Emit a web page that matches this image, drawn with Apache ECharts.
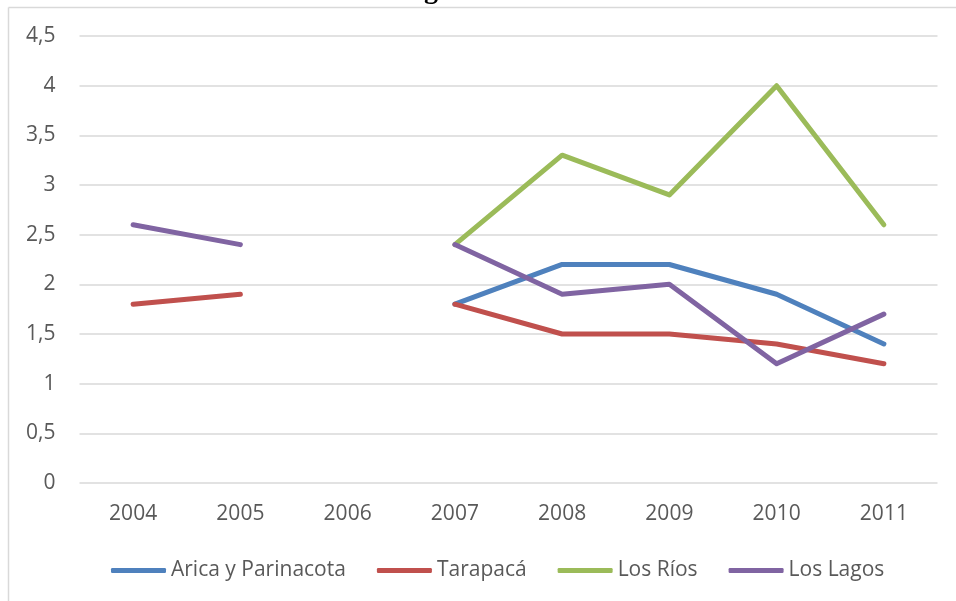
<!DOCTYPE html>
<html><head><meta charset="utf-8">
<script src="https://cdn.jsdelivr.net/npm/echarts@6/dist/echarts.min.js"></script>
<style>html,body{margin:0;padding:0;background:#fff}#c{width:956px;height:601px}</style>
</head><body><div id="c"></div>
<script>
const categories = ['2004','2005','2006','2007','2008','2009','2010','2011'];
const arica = [null, null, null, 1.8, 2.2, 2.2, 1.9, 1.4];
const tarapaca = [1.8, 1.9, null, 1.8, 1.5, 1.5, 1.4, 1.2];
const losRios = [null, null, null, 2.4, 3.3, 2.9, 4.0, 2.6];
const losLagos = [2.6, 2.4, null, 2.4, 1.9, 2.0, 1.2, 1.7];
const seriesNames = ['Arica y Parinacota', 'Tarapacá', 'Los Ríos', 'Los Lagos'];
const colors = ['#4F81BD', '#C0504D', '#9BBB59', '#8064A2'];
const font = 'Open Sans, Noto Sans, sans-serif';
const chart = echarts.init(document.getElementById('c'));
const mk = (name, data, color) => ({
  name, type: 'line', data, connectNulls: false, showSymbol: false, symbol: 'none',
  lineStyle: { color, width: 5, cap: 'round', join: 'round' }, itemStyle: { color },
  animation: false
});
chart.setOption({
  animation: false,
  grid: { left: 79.5, right: 18.5, top: 36, bottom: 118, containLabel: false },
  graphic: [
    { type: 'line', shape: { x1: 8.5, y1: 7.5, x2: 956, y2: 7.5 }, style: { stroke: '#d9d9d9', lineWidth: 1.5 } },
    { type: 'line', shape: { x1: 8.5, y1: 7.5, x2: 8.5, y2: 601 }, style: { stroke: '#d9d9d9', lineWidth: 1.5 } },
    { type: 'text', left: 424, top: -23, style: { text: 'g', font: 'bold 28px "Liberation Serif", serif', fill: '#000' } }
  ],
  legend: {
    top: 555, left: 106, itemWidth: 55, itemHeight: 5, itemGap: 31,
    icon: 'roundRect',
    textStyle: { fontFamily: font, fontSize: 21, color: '#595959' },
    data: seriesNames
  },
  xAxis: {
    type: 'category', data: categories, boundaryGap: true,
    axisLine: { show: false }, axisTick: { show: false },
    axisLabel: { fontFamily: font, fontSize: 21, color: '#595959', margin: 21 }
  },
  yAxis: {
    type: 'value', min: 0, max: 4.5, interval: 0.5,
    axisLine: { show: false }, axisTick: { show: false },
    splitLine: { lineStyle: { color: '#d9d9d9', width: 1.5 } },
    axisLabel: { fontFamily: font, fontSize: 21, color: '#595959', margin: 24,
      formatter: v => String(v).replace('.', ',') }
  },
  series: [
    mk(seriesNames[0], arica, colors[0]),
    mk(seriesNames[1], tarapaca, colors[1]),
    mk(seriesNames[2], losRios, colors[2]),
    mk(seriesNames[3], losLagos, colors[3])
  ]
});
</script></body></html>
